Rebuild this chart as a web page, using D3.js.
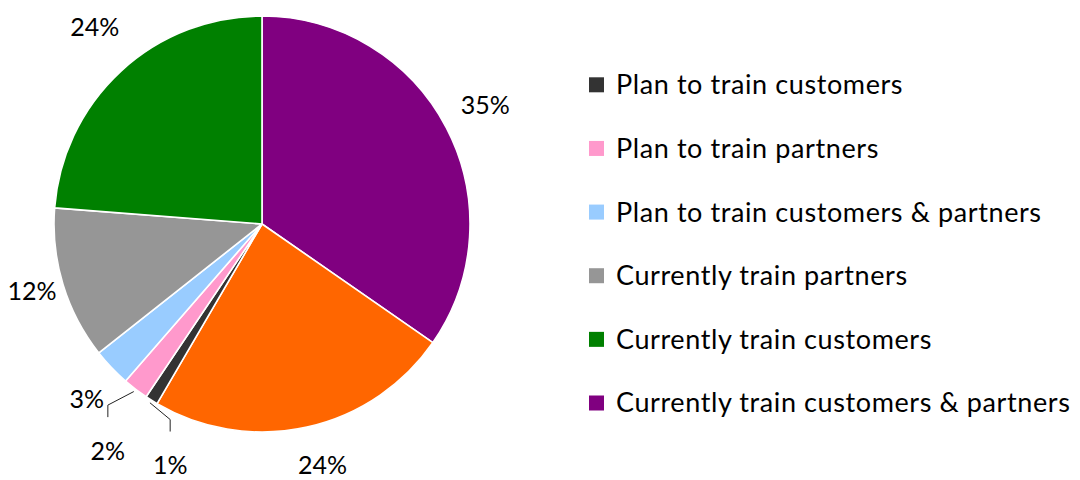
<!DOCTYPE html>
<html>
<head>
<meta charset="utf-8">
<script src="https://cdn.jsdelivr.net/npm/d3@7/dist/d3.min.js"></script>
<style>
  html, body { margin: 0; padding: 0; background: #fff; }
  svg { display: block; }
  text { font-family: Lato, "Open Sans", sans-serif; fill: #000; }
</style>
</head>
<body>
<svg id="chart" width="1080" height="480"></svg>
<script>
// Slices, clockwise from twelve o'clock
const categories = [
  "Currently train customers & partners",
  "Other",
  "Plan to train customers",
  "Plan to train partners",
  "Plan to train customers & partners",
  "Currently train partners",
  "Currently train customers"
];
const values = [35, 24, 1, 2, 3, 12, 24];
const colors = ["#800080", "#FF6600", "#333333", "#FF99CC", "#99CCFF", "#969696", "#008000"];

// Legend entries (top to bottom)
const legendItems = [
  "Plan to train customers",
  "Plan to train partners",
  "Plan to train customers & partners",
  "Currently train partners",
  "Currently train customers",
  "Currently train customers & partners"
];

// Label placement tweaks per slice (dx, dy) and which ones use a leader line
const labelNudge = [[0, -2], [6, -5], [42, 28], [-1, 27], [7, 1], [11, -6], [4, -12]];
const leader = [false, false, true, true, false, false, false];

const cx = 262, cy = 224, R = 208, rLabel = 252;

const svg = d3.select("#chart");
const g = svg.append("g").attr("transform", `translate(${cx},${cy})`);

const pie = d3.pie().sort(null).value(d => d)(values);
const arc = d3.arc().innerRadius(0).outerRadius(R);

g.selectAll("path.slice")
  .data(pie)
  .join("path")
  .attr("class", "slice")
  .attr("d", arc)
  .attr("fill", (d, i) => colors[i])
  .attr("stroke", "#fff")
  .attr("stroke-width", 1.6)
  .attr("stroke-linejoin", "round");

const polar = (a, r) => [r * Math.sin(a), -r * Math.cos(a)];

const labels = pie.map((d, i) => {
  const mid = (d.startAngle + d.endAngle) / 2;
  const p = polar(mid, rLabel);
  return { i, mid, x: p[0] + labelNudge[i][0], y: p[1] + labelNudge[i][1], text: values[i] + "%" };
});

// Leader lines for the thin slices
g.selectAll("path.leader")
  .data(labels.filter(l => leader[l.i]))
  .join("path")
  .attr("class", "leader")
  .attr("fill", "none")
  .attr("stroke", "#222")
  .attr("stroke-width", 1)
  .attr("d", l => {
    const s = polar(l.mid, R + 3);
    return d3.line()([s, [l.x, l.y - 46], [l.x, l.y - 34]]);
  });

g.selectAll("text.pct")
  .data(labels)
  .join("text")
  .attr("class", "pct")
  .attr("x", l => l.x)
  .attr("y", l => l.y)
  .attr("dy", "0.35em")
  .attr("text-anchor", "middle")
  .style("font-size", "25px")
  .text(l => l.text);

// Legend
const legendColor = name => colors[categories.indexOf(name)];
const legendY = d3.scalePoint().domain(legendItems).range([84.8, 403]);

const lg = svg.append("g");
const rows = lg.selectAll("g.row")
  .data(legendItems)
  .join("g")
  .attr("class", "row")
  .attr("transform", d => `translate(589,${legendY(d)})`);

rows.append("rect")
  .attr("x", 0).attr("y", -7.5)
  .attr("width", 15).attr("height", 15)
  .attr("fill", d => legendColor(d));

rows.append("text")
  .attr("x", 27)
  .attr("dy", "0.35em")
  .style("font-size", "27px")
  .style("letter-spacing", "0.6px")
  .text(d => d);
</script>
</body>
</html>
